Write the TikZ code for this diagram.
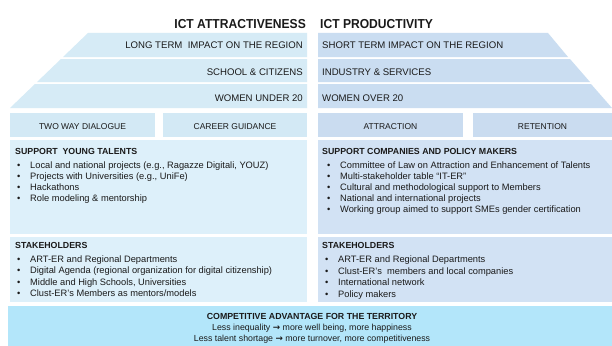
\documentclass[tikz,border=0pt]{standalone}
\usepackage{fontspec}
\setmainfont{Liberation Sans}
\newfontfamily\arrowfont{DejaVu Sans}
\definecolor{bandL}{HTML}{D6EBF6}
\definecolor{bandR}{HTML}{CADDF1}
\definecolor{tabL}{HTML}{D3E9F5}
\definecolor{tabR}{HTML}{CADCF0}
\definecolor{boxL}{HTML}{DDF0FA}
\definecolor{boxR}{HTML}{D2E2F4}
\definecolor{botC}{HTML}{B3E6FA}
\definecolor{ink}{HTML}{1A1A1A}
\newcommand\bulit{\makebox[13pt][l]{\textbullet}}
\newcommand\arr{{\arrowfont\bfseries →}}
\begin{document}
\begin{tikzpicture}[x=1pt,y=-1pt,
  lbl/.style={inner sep=0pt, text=ink},
  bandtxt/.style={lbl, font=\fontsize{9.6}{11}\selectfont},
  tabbox/.style={inner sep=0pt, font=\fontsize{8.5}{10}\selectfont, text=ink},
  panel/.style={inner sep=0pt},
  body/.style={lbl, anchor=base west, font=\fontsize{9.3}{10}\selectfont},
  head/.style={lbl, anchor=base west, font=\bfseries\fontsize{8.8}{10}\selectfont},
  ttl/.style={lbl, font=\bfseries\fontsize{13}{15}\selectfont, xscale=0.93},
  bot/.style={lbl, anchor=base, font=\fontsize{8.8}{10}\selectfont},
]
\useasboundingbox (0,0) rectangle (612,345);
\fill[white] (0,0) rectangle (612,345);

% headings
\node[ttl, anchor=base east] (hA) at (306,28.7) {ICT ATTRACTIVENESS};
\node[ttl, anchor=base west] (hP) at (320,28.7) {ICT PRODUCTIVITY};

% left bands
\fill[bandL] (88,33) -- (307,33) -- (307,57) -- (63,57) -- cycle;
\fill[bandL] (61,59) -- (307,59) -- (307,82) -- (37,82) -- cycle;
\fill[bandL] (35,84) -- (307,84) -- (307,108) -- (10,108) -- cycle;
% right bands
\fill[bandR] (318,33) -- (548,33) -- (568,57) -- (318,57) -- cycle;
\fill[bandR] (318,59) -- (570,59) -- (590,82) -- (318,82) -- cycle;
\fill[bandR] (318,84) -- (591,84) -- (612,108) -- (318,108) -- cycle;

\node[bandtxt, anchor=base east] (lt) at (303,48.3) {LONG TERM\ \ IMPACT ON THE REGION};
\node[bandtxt, anchor=base east] (sc) at (303,75) {SCHOOL \& CITIZENS};
\node[bandtxt, anchor=base east] (wu) at (303,101.5) {WOMEN UNDER 20};
\node[bandtxt, anchor=base west] (st) at (322,48.3) {SHORT TERM IMPACT ON THE REGION};
\node[bandtxt, anchor=base west] (is) at (322,75) {INDUSTRY \& SERVICES};
\node[bandtxt, anchor=base west] (wo) at (322,101.5) {WOMEN OVER 20};

% tabs
\node[tabbox, fill=tabL, minimum width=145pt, minimum height=24pt] (twd) at (82.5,125) {};
\node[tabbox, fill=tabL, minimum width=144pt, minimum height=24pt] (cg) at (235,125) {};
\node[tabbox, fill=tabR, minimum width=145pt, minimum height=24pt] (att) at (390.5,125) {};
\node[tabbox, fill=tabR, minimum width=139pt, minimum height=24pt] (ret) at (542.5,125) {};
\node[tabbox, anchor=base] (twdt) at (82.5,129) {TWO WAY DIALOGUE};
\node[tabbox, anchor=base] (cgt) at (235,129) {CAREER GUIDANCE};
\node[tabbox, anchor=base] (attt) at (390.5,129) {ATTRACTION};
\node[tabbox, anchor=base] (rett) at (542.5,129) {RETENTION};

% panels
\node[panel, fill=boxL, minimum width=297pt, minimum height=94pt] (pYT) at (158.5,187) {};
\node[panel, fill=boxR, minimum width=294pt, minimum height=94pt] (pCP) at (465,187) {};
\node[panel, fill=boxL, minimum width=297pt, minimum height=65pt] (pSL) at (158.5,269.5) {};
\node[panel, fill=boxR, minimum width=294pt, minimum height=65pt] (pSR) at (465,269.5) {};
\node[panel, fill=botC, minimum width=604pt, minimum height=40pt] (pBot) at (310,326) {};

% support young talents
\node[head] (hYT) at (15,154) {SUPPORT\ \ YOUNG TALENTS};
\node[body] (yt1) at (17,168.5) {\bulit Local and national projects (e.g., Ragazze Digitali, YOUZ)};
\node[body] (yt2) at (17,179.5) {\bulit Projects with Universities (e.g., UniFe)};
\node[body] (yt3) at (17,190.5) {\bulit Hackathons};
\node[body] (yt4) at (17,201.5) {\bulit Role modeling \& mentorship};

% support companies
\node[head] (hCP) at (322,154) {SUPPORT COMPANIES AND POLICY MAKERS};
\node[body] (cp1) at (327,168.5) {\bulit Committee of Law on Attraction and Enhancement of Talents};
\node[body] (cp2) at (327,179.5) {\bulit Multi-stakeholder table “IT-ER”};
\node[body] (cp3) at (327,190.5) {\bulit Cultural and methodological support to Members};
\node[body] (cp4) at (327,201.5) {\bulit National and international projects};
\node[body] (cp5) at (327,212.5) {\bulit Working group aimed to support SMEs gender certification};

% stakeholders left
\node[head] (hSL) at (15,248.5) {STAKEHOLDERS};
\node[body] (sl1) at (17,262.5) {\bulit ART-ER and Regional Departments};
\node[body] (sl2) at (17,273.5) {\bulit Digital Agenda (regional organization for digital citizenship)};
\node[body] (sl3) at (17,285.5) {\bulit Middle and High Schools, Universities};
\node[body] (sl4) at (17,296.5) {\bulit Clust-ER’s Members as mentors/models};

% stakeholders right
\node[head] (hSR) at (322,248.5) {STAKEHOLDERS};
\node[body] (sr1) at (325,262.5) {\bulit ART-ER and Regional Departments};
\node[body] (sr2) at (325,274.5) {\bulit Clust-ER’s\ \ members and local companies};
\node[body] (sr3) at (325,285.5) {\bulit International network};
\node[body] (sr4) at (325,297.5) {\bulit Policy makers};

% bottom
\node[bot, font=\bfseries\fontsize{8.8}{10}\selectfont] (b1) at (312,319) {COMPETITIVE ADVANTAGE FOR THE TERRITORY};
\node[bot] (b2) at (312,330.5) {Less inequality \arr{} more well being, more happiness};
\node[bot] (b3) at (312,341.5) {Less talent shortage \arr{} more turnover, more competitiveness};
\end{tikzpicture}
\end{document}
